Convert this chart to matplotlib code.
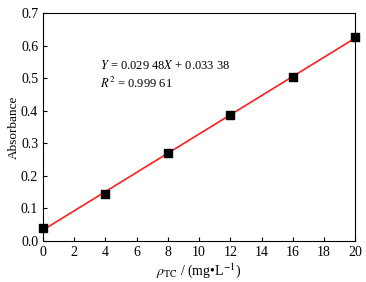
import matplotlib
matplotlib.use("Agg")
import matplotlib.pyplot as plt
import numpy as np

plt.rcParams['font.family'] = ['Liberation Serif', 'DejaVu Serif']
plt.rcParams['mathtext.fontset'] = 'stix'

conc = [0, 4, 8, 12, 16, 20]
absorb = [0.038, 0.145, 0.271, 0.388, 0.502, 0.626]
slope = 0.02948
intercept = 0.03338
xticks = [0, 2, 4, 6, 8, 10, 12, 14, 16, 18, 20]
yticks = [0.0, 0.1, 0.2, 0.3, 0.4, 0.5, 0.6, 0.7]

fig = plt.figure(figsize=(3.66, 2.82), dpi=100)
ax = fig.add_axes([0.1175, 0.146, 0.853, 0.808])

xl = np.array([0, 20])
ax.plot(xl, slope * xl + intercept, color='#ff2020', lw=1.2, zorder=2)
ax.scatter(conc, absorb, marker='s', s=28, color='black', zorder=3, clip_on=False)

ax.set_xlim(0, 20)
ax.set_ylim(0, 0.7)
ax.set_xticks(xticks)
ax.set_yticks(yticks)
ax.set_yticklabels([f"{v:.1f}" for v in yticks])
ax.tick_params(direction='in', labelsize=10, length=3, width=0.8, top=False, right=False)
for s in ax.spines.values():
    s.set_linewidth(0.8)

ax.set_ylabel('Absorbance', fontsize=9.5, labelpad=1)
ax.set_xlabel(r'$\rho_{\mathrm{TC}}$ / (mg•L$^{-1}$)', fontsize=10, labelpad=2)

ax.text(3.65, 0.540, r'$Y$ = 0.029 48$X$ + 0.033 38', fontsize=9, va='center')
ax.text(3.65, 0.485, r'$R^2$ = 0.999 61', fontsize=9, va='center')

fig.savefig('out.png', dpi=100)
